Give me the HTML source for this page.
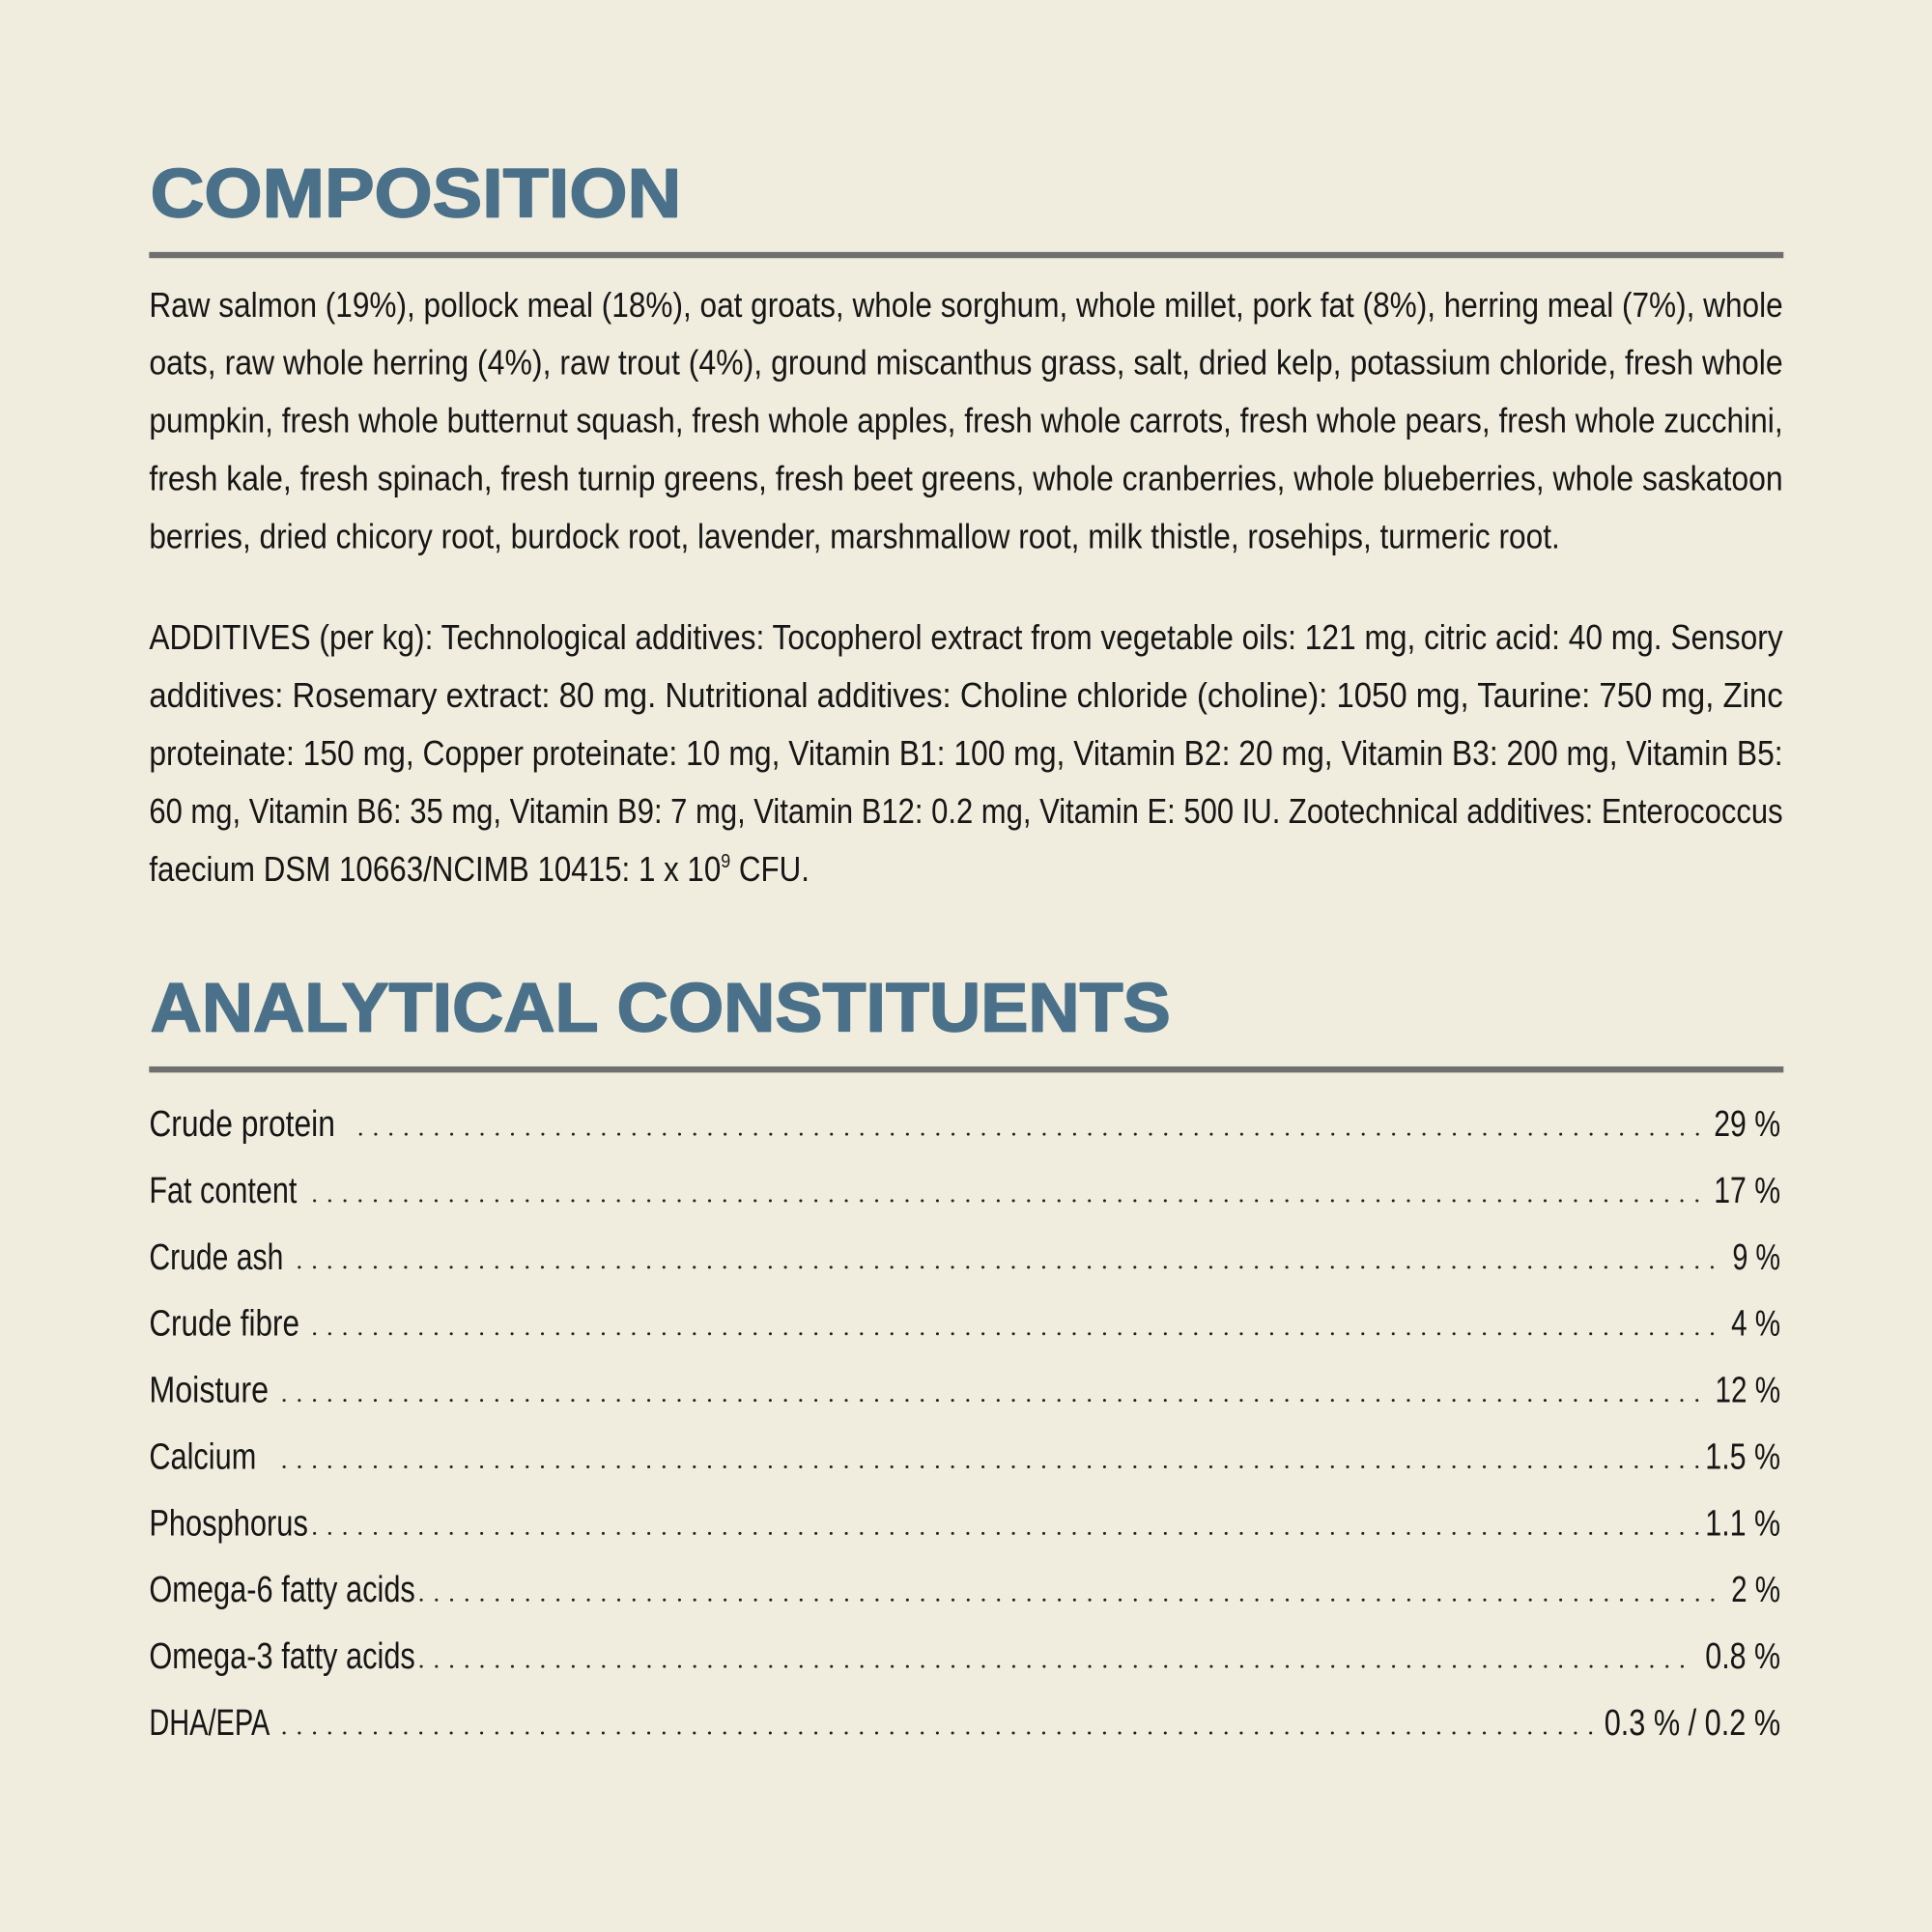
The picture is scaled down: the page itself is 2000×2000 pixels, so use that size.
<!DOCTYPE html>
<html>
<head>
<meta charset="utf-8">
<style>
  html, body { margin: 0; padding: 0; background: #f0edde; }
  body { width: 2000px; height: 2000px; overflow: hidden; }
  svg { display: block; }
  .t { font-family: "Liberation Sans", "DejaVu Sans", sans-serif; font-weight: bold; fill: #4b718a; stroke: #4b718a; stroke-width: 1.3; stroke-linejoin: round; }
  .b { font-family: "Liberation Sans Narrow", "Liberation Sans", sans-serif; font-size: 28px; fill: #161616; }
  .r { font-family: "Liberation Sans Narrow", "Liberation Sans", sans-serif; font-size: 30px; fill: #161616; }
  .d { stroke: #222; stroke-width: 2.4; stroke-linecap: round; stroke-dasharray: 0 12.33; fill: none; }
</style>
</head>
<body>
<svg width="2000" height="2000" viewBox="0 0 1568 1568" xmlns="http://www.w3.org/2000/svg">
  <rect x="0" y="0" width="1568" height="1568" fill="#f0edde"/>

  <!-- COMPOSITION -->
  <text class="t" x="122" y="176" font-size="56" textLength="431" lengthAdjust="spacingAndGlyphs">COMPOSITION</text>
  <rect x="121" y="204.5" width="1326.5" height="5" fill="#6f6f6f"/>

  <text class="b" x="121" y="257" textLength="1326" lengthAdjust="spacingAndGlyphs">Raw salmon (19%), pollock meal (18%), oat groats, whole sorghum, whole millet, pork fat (8%), herring meal (7%), whole</text>
  <text class="b" x="121" y="304" textLength="1326" lengthAdjust="spacingAndGlyphs">oats, raw whole herring (4%), raw trout (4%), ground miscanthus grass, salt, dried kelp, potassium chloride, fresh whole</text>
  <text class="b" x="121" y="351" textLength="1326" lengthAdjust="spacingAndGlyphs">pumpkin, fresh whole butternut squash, fresh whole apples, fresh whole carrots, fresh whole pears, fresh whole zucchini,</text>
  <text class="b" x="121" y="398" textLength="1326" lengthAdjust="spacingAndGlyphs">fresh kale, fresh spinach, fresh turnip greens, fresh beet greens, whole cranberries, whole blueberries, whole saskatoon</text>
  <text class="b" x="121" y="445" textLength="1145" lengthAdjust="spacingAndGlyphs">berries, dried chicory root, burdock root, lavender, marshmallow root, milk thistle, rosehips, turmeric root.</text>

  <text class="b" x="121" y="527" textLength="1326" lengthAdjust="spacingAndGlyphs">ADDITIVES (per kg): Technological additives: Tocopherol extract from vegetable oils: 121 mg, citric acid: 40 mg. Sensory</text>
  <text class="b" x="121" y="574" textLength="1326" lengthAdjust="spacingAndGlyphs">additives: Rosemary extract: 80 mg. Nutritional additives: Choline chloride (choline): 1050 mg, Taurine: 750 mg, Zinc</text>
  <text class="b" x="121" y="621" textLength="1326" lengthAdjust="spacingAndGlyphs">proteinate: 150 mg, Copper proteinate: 10 mg, Vitamin B1: 100 mg, Vitamin B2: 20 mg, Vitamin B3: 200 mg, Vitamin B5:</text>
  <text class="b" x="121" y="668" textLength="1326" lengthAdjust="spacingAndGlyphs">60 mg, Vitamin B6: 35 mg, Vitamin B9: 7 mg, Vitamin B12: 0.2 mg, Vitamin E: 500 IU. Zootechnical additives: Enterococcus</text>
  <text class="b" x="121" y="715" textLength="536" lengthAdjust="spacingAndGlyphs">faecium DSM 10663/NCIMB 10415: 1 x 10<tspan font-size="16" dy="-11">9</tspan><tspan dy="11"> CFU.</tspan></text>

  <!-- ANALYTICAL CONSTITUENTS -->
  <text class="t" x="122" y="837" font-size="56" textLength="828" lengthAdjust="spacingAndGlyphs">ANALYTICAL CONSTITUENTS</text>
  <rect x="121" y="865.5" width="1326.5" height="5" fill="#6f6f6f"/>

  <!-- rows -->
  <text class="r" x="121" y="922" textLength="151" lengthAdjust="spacingAndGlyphs">Crude protein</text>
  <line class="d" x1="292.6" y1="920.5" x2="1378.5" y2="920.5"/>
  <text class="r" x="1391" y="922" textLength="54" lengthAdjust="spacingAndGlyphs">29 %</text>

  <text class="r" x="121" y="976" textLength="120" lengthAdjust="spacingAndGlyphs">Fat content</text>
  <line class="d" x1="255.3" y1="974.5" x2="1378.5" y2="974.5"/>
  <text class="r" x="1391" y="976" textLength="54" lengthAdjust="spacingAndGlyphs">17 %</text>

  <text class="r" x="121" y="1030" textLength="109" lengthAdjust="spacingAndGlyphs">Crude ash</text>
  <line class="d" x1="242.9" y1="1028.5" x2="1390.5" y2="1028.5"/>
  <text class="r" x="1406" y="1030" textLength="39" lengthAdjust="spacingAndGlyphs">9 %</text>

  <text class="r" x="121" y="1084" textLength="122" lengthAdjust="spacingAndGlyphs">Crude fibre</text>
  <line class="d" x1="255.3" y1="1082.5" x2="1390.5" y2="1082.5"/>
  <text class="r" x="1405" y="1084" textLength="40" lengthAdjust="spacingAndGlyphs">4 %</text>

  <text class="r" x="121" y="1138" textLength="97" lengthAdjust="spacingAndGlyphs">Moisture</text>
  <line class="d" x1="230.6" y1="1136.5" x2="1378.5" y2="1136.5"/>
  <text class="r" x="1392" y="1138" textLength="53" lengthAdjust="spacingAndGlyphs">12 %</text>

  <text class="r" x="121" y="1192" textLength="87" lengthAdjust="spacingAndGlyphs">Calcium</text>
  <line class="d" x1="230.6" y1="1190.5" x2="1378.5" y2="1190.5"/>
  <text class="r" x="1384" y="1192" textLength="61" lengthAdjust="spacingAndGlyphs">1.5 %</text>

  <text class="r" x="121" y="1246" textLength="129" lengthAdjust="spacingAndGlyphs">Phosphorus</text>
  <line class="d" x1="255.3" y1="1244.5" x2="1378.5" y2="1244.5"/>
  <text class="r" x="1384" y="1246" textLength="61" lengthAdjust="spacingAndGlyphs">1.1 %</text>

  <text class="r" x="121" y="1300" textLength="216" lengthAdjust="spacingAndGlyphs">Omega-6 fatty acids</text>
  <line class="d" x1="341.9" y1="1298.5" x2="1390.5" y2="1298.5"/>
  <text class="r" x="1405" y="1300" textLength="40" lengthAdjust="spacingAndGlyphs">2 %</text>

  <text class="r" x="121" y="1354" textLength="216" lengthAdjust="spacingAndGlyphs">Omega-3 fatty acids</text>
  <line class="d" x1="341.9" y1="1352.5" x2="1366.2" y2="1352.5"/>
  <text class="r" x="1384" y="1354" textLength="61" lengthAdjust="spacingAndGlyphs">0.8 %</text>

  <text class="r" x="121" y="1408" textLength="98" lengthAdjust="spacingAndGlyphs">DHA/EPA</text>
  <line class="d" x1="230.6" y1="1406.5" x2="1291.8" y2="1406.5"/>
  <text class="r" x="1302" y="1408" textLength="143" lengthAdjust="spacingAndGlyphs">0.3 % / 0.2 %</text>
</svg>
</body>
</html>
